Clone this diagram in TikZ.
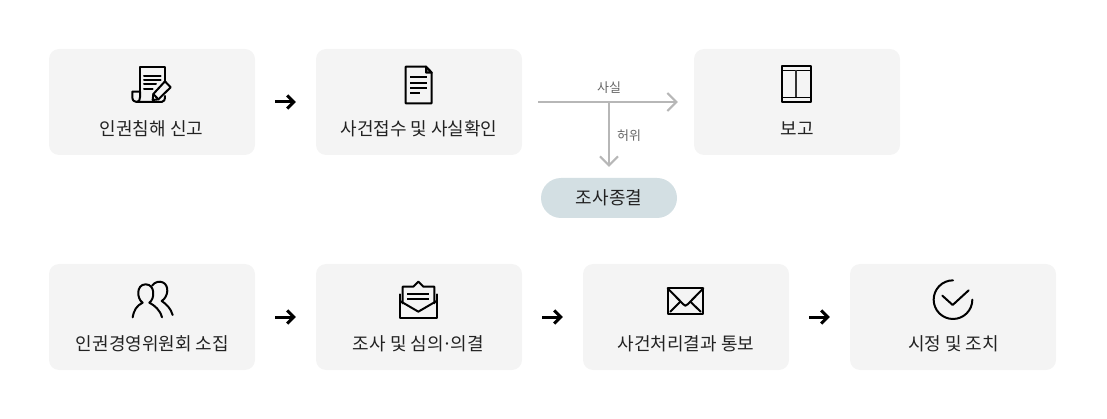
\documentclass[tikz,border=0pt]{standalone}
\usepackage{fontspec}
\setmainfont{Noto Sans CJK KR}
\usetikzlibrary{arrows.meta}
\definecolor{boxgray}{HTML}{F4F4F4}
\definecolor{pillc}{HTML}{D3DFE3}
\definecolor{linegray}{HTML}{B7B7B7}
\definecolor{textc}{HTML}{222222}
\definecolor{smalltext}{HTML}{666666}
\tikzset{
  x=1pt,y=-1pt,
  stepbox/.style={fill=boxgray,rounded corners=10pt,minimum width=206pt,minimum height=106pt,inner sep=0pt},
  pill/.style={fill=pillc,rounded corners=20pt,minimum width=136pt,minimum height=40pt,inner sep=0pt,font=\fontsize{18}{22}\selectfont,text=textc},
  steptext/.style={font=\fontsize{18}{22}\selectfont,text=textc,inner sep=0pt},
  smalllabel/.style={font=\fontsize{13}{16}\selectfont,text=smalltext,inner sep=0pt},
  blackarrow/.style={draw=black,line width=3pt,-{Straight Barb[length=6.5pt,width=13pt,line width=3pt]},shorten <=20pt,shorten >=20pt},
  grayarrow/.style={draw=linegray,line width=2pt,-{Straight Barb[length=9pt,width=18pt,line width=2pt]}},
  icon/.style={draw=black,line width=2pt,line join=round,line cap=round},
  iconthin/.style={draw=black,line width=2pt,line join=miter,line cap=butt},
}
\begin{document}
\begin{tikzpicture}
\useasboundingbox (0,0) rectangle (1107,419);
% boxes
\node[stepbox] (b1) at (152,102) {};
\node[stepbox] (b2) at (419,102) {};
\node[stepbox] (b3) at (797,102) {};
\node[stepbox] (b4) at (152,317) {};
\node[stepbox] (b5) at (419,317) {};
\node[stepbox] (b6) at (686,317) {};
\node[stepbox] (b7) at (953,317) {};
\node[pill] (end) at (609,198) {조사종결};
% labels
\node[steptext] (t1) at (151.5,128.5) {인권침해 신고};
\node[steptext] (t2) at (419,128.5) {사건접수 및 사실확인};
\node[steptext] (t3) at (797,128.5) {보고};
\node[steptext] (t4) at (152.5,343.5) {인권경영위원회 소집};
\node[steptext] (t5) at (418.5,343.5) {조사 및 심의\kern-1.5pt·\kern-1.5pt의결};
\node[steptext] (t6) at (686,343.5) {사건처리결과 통보};
\node[steptext] (t7) at (953.5,343.5) {시정 및 조치};
\node[smalllabel] (fact) at (609,88) {사실};
\node[smalllabel] (false) at (629,136) {허위};
% connectors
\draw[blackarrow] (b1) -- (b2);
\draw[blackarrow] (b4) -- (b5);
\draw[blackarrow] (b5) -- (b6);
\draw[blackarrow] (b6) -- (b7);
\coordinate (branch) at (609,102);
\draw[grayarrow,shorten <=16pt,shorten >=16pt] (b2.east) -- (b3.west);
\draw[grayarrow,shorten >=11pt] (branch) -- (end.north);
% icon 1: report
\begin{scope}[shift={(120,60)},x=0.3333pt,y=-0.3333pt]
\draw[icon] (60,95) -- (60,20) -- (135,20) -- (135,62);
\draw[icon] (60,95) -- (37,95) -- (37,112) .. controls (37,122) and (44,126) .. (50,126) -- (125,126) .. controls (132,126) and (135,120) .. (135,108);
\draw[icon] (50,126) .. controls (57,126) and (60,120) .. (60,112) -- (60,95);
\draw[icon] (72,47) -- (122,47) (72,60) -- (122,60) (72,73) -- (108,73) (72,86) -- (98,86);
\draw[icon,fill=boxgray] (135,64) -- (152,82) -- (115,118) -- (98,120) -- (100,102) -- cycle;
\draw[icon] (100,102) -- (115,118);
\end{scope}
% icon 2: document
\begin{scope}[shift={(395,60)},x=0.3333pt,y=-0.3333pt]
\draw[icon] (32,20) -- (93,20) -- (110,38) -- (110,130) -- (32,130) -- cycle;
\draw[icon,fill=black!55] (93,20) -- (93,38) -- (110,38) -- cycle;
\draw[iconthin] (45,52) -- (97,52) (45,68) -- (97,68) (45,84) -- (97,84) (45,99) -- (75,99);
\end{scope}
% icon 3: book
\begin{scope}[shift={(760,55)},x=0.3333pt,y=-0.3333pt]
\draw[icon,line width=2.4pt] (66,33) rectangle (153,141);
\draw[iconthin,line width=1.5pt] (66,46) -- (153,46) (66,127) -- (153,127);
\draw[iconthin,line width=2pt,draw=black!80] (108,46) -- (108,127);
\end{scope}
% icon 4: people
\begin{scope}[shift={(120,275)},x=0.3333pt,y=-0.3333pt]
\draw[icon] (38,127) .. controls (42,105) and (50,92) .. (68,83) .. controls (50,72) and (48,28) .. (77,28) .. controls (106,28) and (105,72) .. (88,83) .. controls (105,92) and (120,105) .. (126,127);
\draw[icon] (96,32) .. controls (104,20) and (120,18) .. (128,22) .. controls (148,30) and (146,65) .. (125,78) .. controls (140,88) and (152,100) .. (158,120);
\end{scope}
% icon 5: open mail
\begin{scope}[shift={(390,275)},x=0.3333pt,y=-0.3333pt]
\draw[icon] (38,85) -- (38,35) -- (70,35) -- (85,20) -- (100,35) -- (133,35) -- (133,85);
\draw[icon] (30,58) -- (30,128) -- (140,128) -- (140,58);
\draw[icon] (30,78) -- (85,110) -- (140,78);
\draw[iconthin] (52,57) -- (118,57) (52,72) -- (118,72);
\end{scope}
% icon 6: mail
\begin{scope}[shift={(655,275)},x=0.3333pt,y=-0.3333pt]
\draw[icon] (38,40) rectangle (145,117);
\draw[icon] (38,40) -- (85,88) -- (91,92) -- (98,88) -- (145,40);
\draw[icon] (46,110) -- (76,80) (137,110) -- (106,80);
\end{scope}
% icon 7: check
\begin{scope}[shift={(925,275)},x=0.3333pt,y=-0.3333pt]
\draw[icon] (84,16) arc[start angle=-90,end angle=-360,radius=58];
\draw[icon] (52,62) -- (83,90) -- (131,46);
\end{scope}
\end{tikzpicture}
\end{document}
